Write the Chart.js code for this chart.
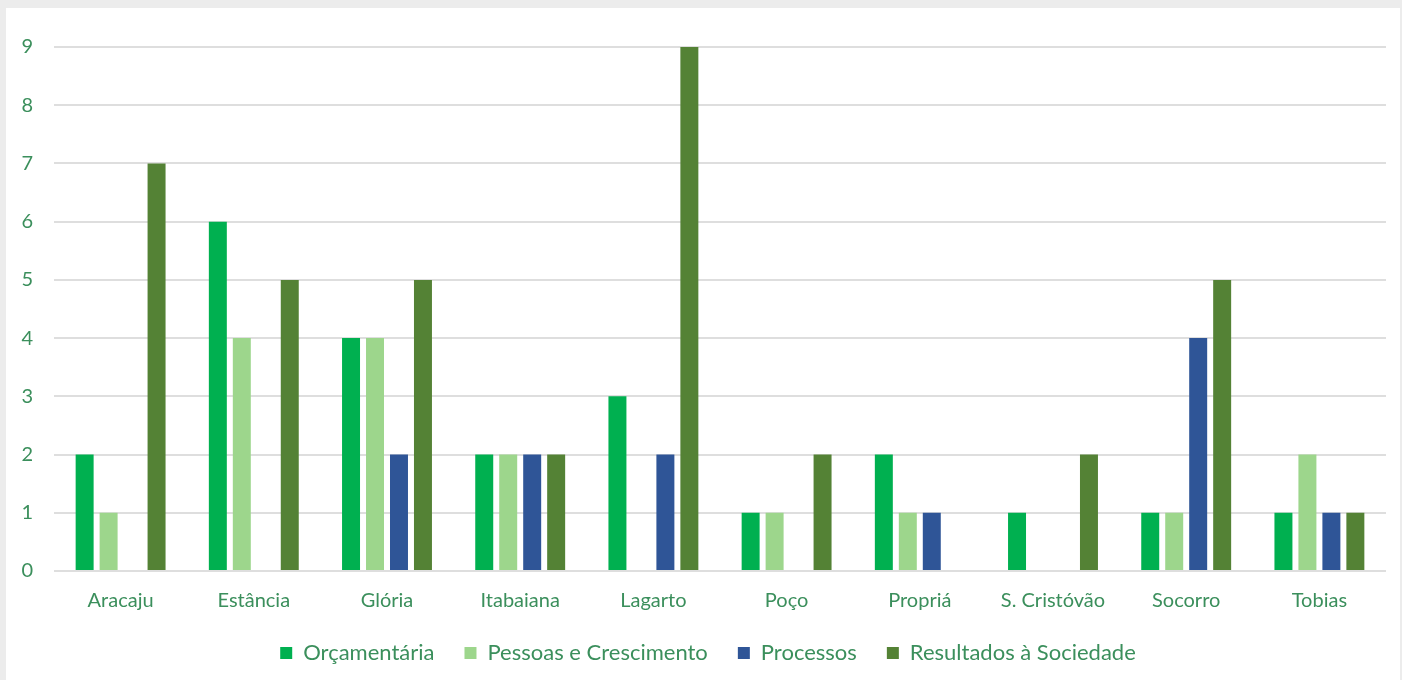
<!DOCTYPE html>
<html>
<head>
<meta charset="utf-8">
<script src="https://cdn.jsdelivr.net/npm/chart.js@4"></script>
<style>
  html, body { margin: 0; padding: 0; background: #ececec; }
  #wrap { position: absolute; left: 6px; top: 8px; width: 1394px; height: 672px; background: #ffffff; }
</style>
</head>
<body>
<div id="wrap"><canvas id="grafico"></canvas></div>
<script>
// Indicadores por unidade
const unidades = ["Aracaju", "Estância", "Glória", "Itabaiana", "Lagarto", "Poço", "Propriá", "S. Cristóvão", "Socorro", "Tobias"];
const orcamentaria = [2, 6, 4, 2, 3, 1, 2, 1, 1, 1];
const pessoas = [1, 4, 4, 2, 0, 1, 1, 0, 1, 2];
const processos = [0, 0, 2, 2, 2, 0, 1, 0, 4, 1];
const resultados = [7, 5, 5, 2, 9, 2, 0, 2, 5, 1];
const ticksY = [0, 1, 2, 3, 4, 5, 6, 7, 8, 9];

const verdeTexto = "#3b8f5c";
const familia = "Lato, 'Noto Sans', sans-serif";

// legenda um pouco à direita e mais perto dos rótulos do eixo x
const ajustaLegenda = {
    id: "ajustaLegenda",
    afterLayout(chart) {
        const lg = chart.legend;
        lg.left += 12;
        lg.right += 12;
        lg.top -= 19;
        lg.bottom -= 19;
    },
};

document.addEventListener("DOMContentLoaded", () => {
    const ctx = document.getElementById("grafico").getContext("2d");

    new Chart(ctx, {
        type: "bar",
        data: {
            labels: unidades,
            datasets: [
                { label: "Orçamentária", data: orcamentaria, backgroundColor: "#00b050" },
                { label: "Pessoas e Crescimento", data: pessoas, backgroundColor: "#9dd68c" },
                { label: "Processos", data: processos, backgroundColor: "#2f5597" },
                { label: "Resultados à Sociedade", data: resultados, backgroundColor: "#548235" },
            ],
        },
        plugins: [ajustaLegenda],
        options: {
            responsive: true,
            maintainAspectRatio: false,
            animation: false,
            datasets: { bar: { categoryPercentage: 0.72, barPercentage: 0.75 } },
            layout: { padding: { top: 39, right: 14, bottom: -13, left: 0 } },
            plugins: {
                tooltip: { enabled: false },
                legend: {
                    position: "bottom",
                    labels: {
                        color: verdeTexto,
                        font: { family: familia, size: 22 },
                        boxWidth: 12,
                        boxHeight: 12,
                        padding: 30,
                    },
                },
            },
            scales: {
                x: {
                    grid: { display: false, drawTicks: false },
                    border: { display: false },
                    ticks: { color: verdeTexto, font: { family: familia, size: 20 }, padding: 18 },
                },
                y: {
                    min: 0,
                    max: ticksY[ticksY.length - 1],
                    afterFit: (s) => { s.width = 48; },
                    afterBuildTicks: (s) => { s.ticks = ticksY.map((v) => ({ value: v })); },
                    grid: { color: "#dedede", lineWidth: 2, drawTicks: false },
                    border: { display: false },
                    ticks: { color: verdeTexto, font: { family: familia, size: 20 }, padding: 21 },
                },
            },
        },
    });
});
</script>
</body>
</html>
